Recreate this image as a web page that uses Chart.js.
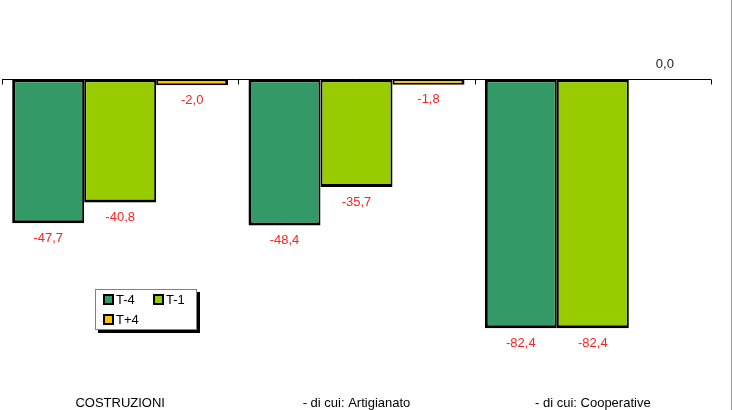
<!DOCTYPE html>
<html>
<head>
<meta charset="utf-8">
<script src="https://cdn.jsdelivr.net/npm/chart.js@4/dist/chart.umd.min.js"></script>
<style>
    html, body { margin: 0; padding: 0; background: #fff; }
    #wrap { position: relative; width: 732px; height: 410px; overflow: hidden; font-family: Arial, "Liberation Sans", sans-serif; }
    #edge { position: absolute; left: 731px; top: 0; width: 1px; height: 410px; background: #a0a0a0; }
    #legend {
        position: absolute; left: 95px; top: 289px; width: 102px; height: 41px;
        border: 1px solid #808080; background: #fff;
        box-shadow: 3px 3px 0 #000; box-sizing: border-box;
        padding: 2px 0 0 7px; font-size: 13px; color: #000;
    }
    .item { display: inline-block; height: 20px; line-height: 16px; white-space: nowrap; }
    .item:nth-child(odd) { width: 50px; }
    .sw { display: inline-block; width: 7px; height: 7px; border: 2px solid #000; vertical-align: -1px; margin-right: 2px; }
</style>
</head>
<body>
<div id="wrap">
    <canvas id="chart" width="732" height="410"></canvas>
    <div id="legend"></div>
    <div id="edge"></div>
</div>
<script>
// dati
const categories = ['COSTRUZIONI', '- di cui: Artigianato', '- di cui: Cooperative'];
const seriesNames = ['T-4', 'T-1', 'T+4'];
const valuesT4 = [-47.7, -48.4, -82.4];
const valuesT1 = [-40.8, -35.7, -82.4];
const valuesTp4 = [-2.0, -1.8, 0.0];
const seriesColors = ['#339966', '#99cc00', '#ffc000'];

const fmt = v => v.toFixed(1).replace('.', ',');

// etichette valori sotto le barre
const valueLabels = {
    id: 'valueLabels',
    afterDatasetsDraw(chart) {
        const ctx = chart.ctx;
        ctx.save();
        ctx.font = '13px Arial, "Liberation Sans", sans-serif';
        ctx.textAlign = 'center';
        ctx.textBaseline = 'middle';
        chart.data.datasets.forEach((ds, i) => {
            chart.getDatasetMeta(i).data.forEach((bar, j) => {
                const v = ds.data[j];
                if (v === 0) {
                    ctx.fillStyle = '#222';
                    ctx.fillText(fmt(v), bar.x, bar.y - 15);
                } else {
                    ctx.fillStyle = '#ff2020';
                    ctx.fillText(fmt(v), bar.x, bar.y + 15);
                }
            });
        });
        ctx.restore();
    }
};

// asse dello zero con tacche tra le categorie
const zeroAxis = {
    id: 'zeroAxis',
    afterDatasetsDraw(chart) {
        const ctx = chart.ctx;
        const x = chart.scales.x;
        const y0 = Math.round(chart.scales.y.getPixelForValue(0)) + 0.5;
        ctx.save();
        ctx.strokeStyle = '#000';
        ctx.lineWidth = 1;
        ctx.beginPath();
        ctx.moveTo(x.left, y0);
        ctx.lineTo(x.right, y0);
        const step = (x.right - x.left) / categories.length;
        for (let i = 0; i <= categories.length; i++) {
            const px = Math.round(x.left + i * step) + 0.5;
            ctx.moveTo(px, y0);
            ctx.lineTo(px, y0 + 5);
        }
        ctx.stroke();
        ctx.restore();
    }
};

const allValues = [valuesT4, valuesT1, valuesTp4];
const borders = [
    { top: 3, bottom: 3, left: 3, right: 2 },
    { top: 3, bottom: 3, left: 2, right: 2 },
    { top: 2, bottom: 2, left: 2, right: 3 }
];

const chart = new Chart(document.getElementById('chart'), {
    type: 'bar',
    data: {
        labels: categories,
        datasets: seriesNames.map((name, i) => ({
            label: name,
            data: allValues[i],
            backgroundColor: seriesColors[i],
            borderColor: '#000',
            borderWidth: borders[i],
            borderSkipped: false,
            categoryPercentage: 0.914,
            barPercentage: 1
        }))
    },
    options: {
        responsive: false,
        animation: false,
        layout: { padding: { top: 49, left: 2, right: 21, bottom: 0 } },
        plugins: {
            legend: { display: false },
            tooltip: { enabled: false }
        },
        scales: {
            x: {
                grid: { display: false, drawTicks: false },
                border: { display: false },
                ticks: { color: '#000', padding: 14, font: { size: 13, family: 'Arial, "Liberation Sans", sans-serif' } },
                afterFit: scale => { scale.height = 28.6; }
            },
            y: {
                min: -100,
                max: 10,
                grid: { display: false, drawTicks: false },
                border: { display: false },
                ticks: { display: false, stepSize: 10 }
            }
        }
    },
    plugins: [valueLabels, zeroAxis]
});

// legenda
const legendEl = document.getElementById('legend');
chart.data.datasets.forEach(ds => {
    const item = document.createElement('span');
    item.className = 'item';
    item.innerHTML = '<span class="sw" style="background:' + ds.backgroundColor + '"></span>' + ds.label;
    legendEl.appendChild(item);
});
</script>
</body>
</html>
